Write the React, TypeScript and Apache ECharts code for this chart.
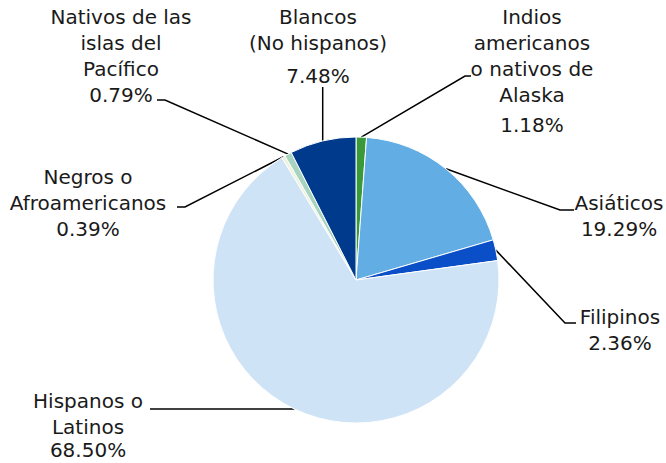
import React, { useEffect, useRef } from 'react';
import * as echarts from 'echarts';

const categories = [
  'Indios\namericanos\no nativos de\nAlaska',
  'Asiáticos',
  'Filipinos',
  'Hispanos o\nLatinos',
  'Negros o\nAfroamericanos',
  'Nativos de las\nislas del\nPacífico',
  'Blancos\n(No hispanos)',
];
const values = [1.18, 19.29, 2.36, 68.5, 0.39, 0.79, 7.48];
const colors = ['#3A9A3A', '#62AEE4', '#0A4FC7', '#CFE3F6', '#EEF3DF', '#A6D4C0', '#003A8C'];

// label layout (center x, top y) and leader-line elbow points
const labelPos: [number, number][] = [
  [532, 4],
  [619, 190],
  [620, 304],
  [88, 388],
  [88, 164],
  [121, 4],
  [318, 4],
];
const pctLineHeight = [34, 26, 26, 20, 26, 26, 40];
const elbows: ([number, number] | null)[][] = [
  [[465, 76], [471, 76]],
  [[560, 210], [574, 210]],
  [[565, 323], [576, 323]],
  [[200, -1], [150, -1]],
  [[185, 207], [177, 207]],
  [[165, 100], [157, 100]],
  [null, null],
];

export default function App() {
  const ref = useRef<HTMLDivElement>(null);
  useEffect(() => {
    if (!ref.current) return;
    const chart = echarts.init(ref.current, undefined, { renderer: 'svg' });
    const font = '"DejaVu Sans", sans-serif';
    const fs = 20;
    chart.setOption({
      animation: false,
      backgroundColor: '#ffffff',
      series: [
        {
          type: 'pie',
          center: [356, 280],
          radius: [0, 143],
          startAngle: 90,
          clockwise: true,
          avoidLabelOverlap: false,
          minShowLabelAngle: 0,
          itemStyle: { borderColor: '#ffffff', borderWidth: 1 },
          label: {
            show: true,
            position: 'outside',
            color: '#1a1a1a',
            fontFamily: font,
            fontSize: fs,
          },
          labelLine: {
            show: true,
            length: 20,
            length2: 10,
            lineStyle: { color: '#000000', width: 1.5 },
          },
          labelLayout: (params: any) => {
            const i = params.dataIndex;
            const pts = params.labelLinePoints;
            const start = pts ? pts[0] : [0, 0];
            const e = elbows[i];
            let linePts;
            if (e[0] && e[1]) {
              const p1 = [e[0][0], e[0][1] < 0 ? start[1] : e[0][1]];
              const p2 = [e[1][0], e[1][1] < 0 ? start[1] : e[1][1]];
              linePts = [start, p1, p2];
            } else {
              linePts = [start, [start[0], 87], [start[0], 87]];
            }
            return {
              x: labelPos[i][0],
              y: labelPos[i][1],
              align: 'center',
              verticalAlign: 'top',
              labelLinePoints: linePts,
            };
          },
          data: categories.map((name, i) => ({
            name,
            value: values[i],
            itemStyle: { color: colors[i] },
            label: {
              formatter: () => `{n|${name}}\n{p|${values[i].toFixed(2)}%}`,
              rich: {
                n: { fontFamily: font, fontSize: fs, lineHeight: 26, color: '#1a1a1a', align: 'center' },
                p: {
                  fontFamily: font,
                  fontSize: fs,
                  lineHeight: pctLineHeight[i],
                  color: '#1a1a1a',
                  align: 'center',
                },
              },
            },
          })),
        },
      ],
    });
    return () => chart.dispose();
  }, []);
  return (
    <div
      ref={ref}
      style={{ position: 'absolute', left: 0, top: 0, width: 666, height: 463 }}
    />
  );
}
